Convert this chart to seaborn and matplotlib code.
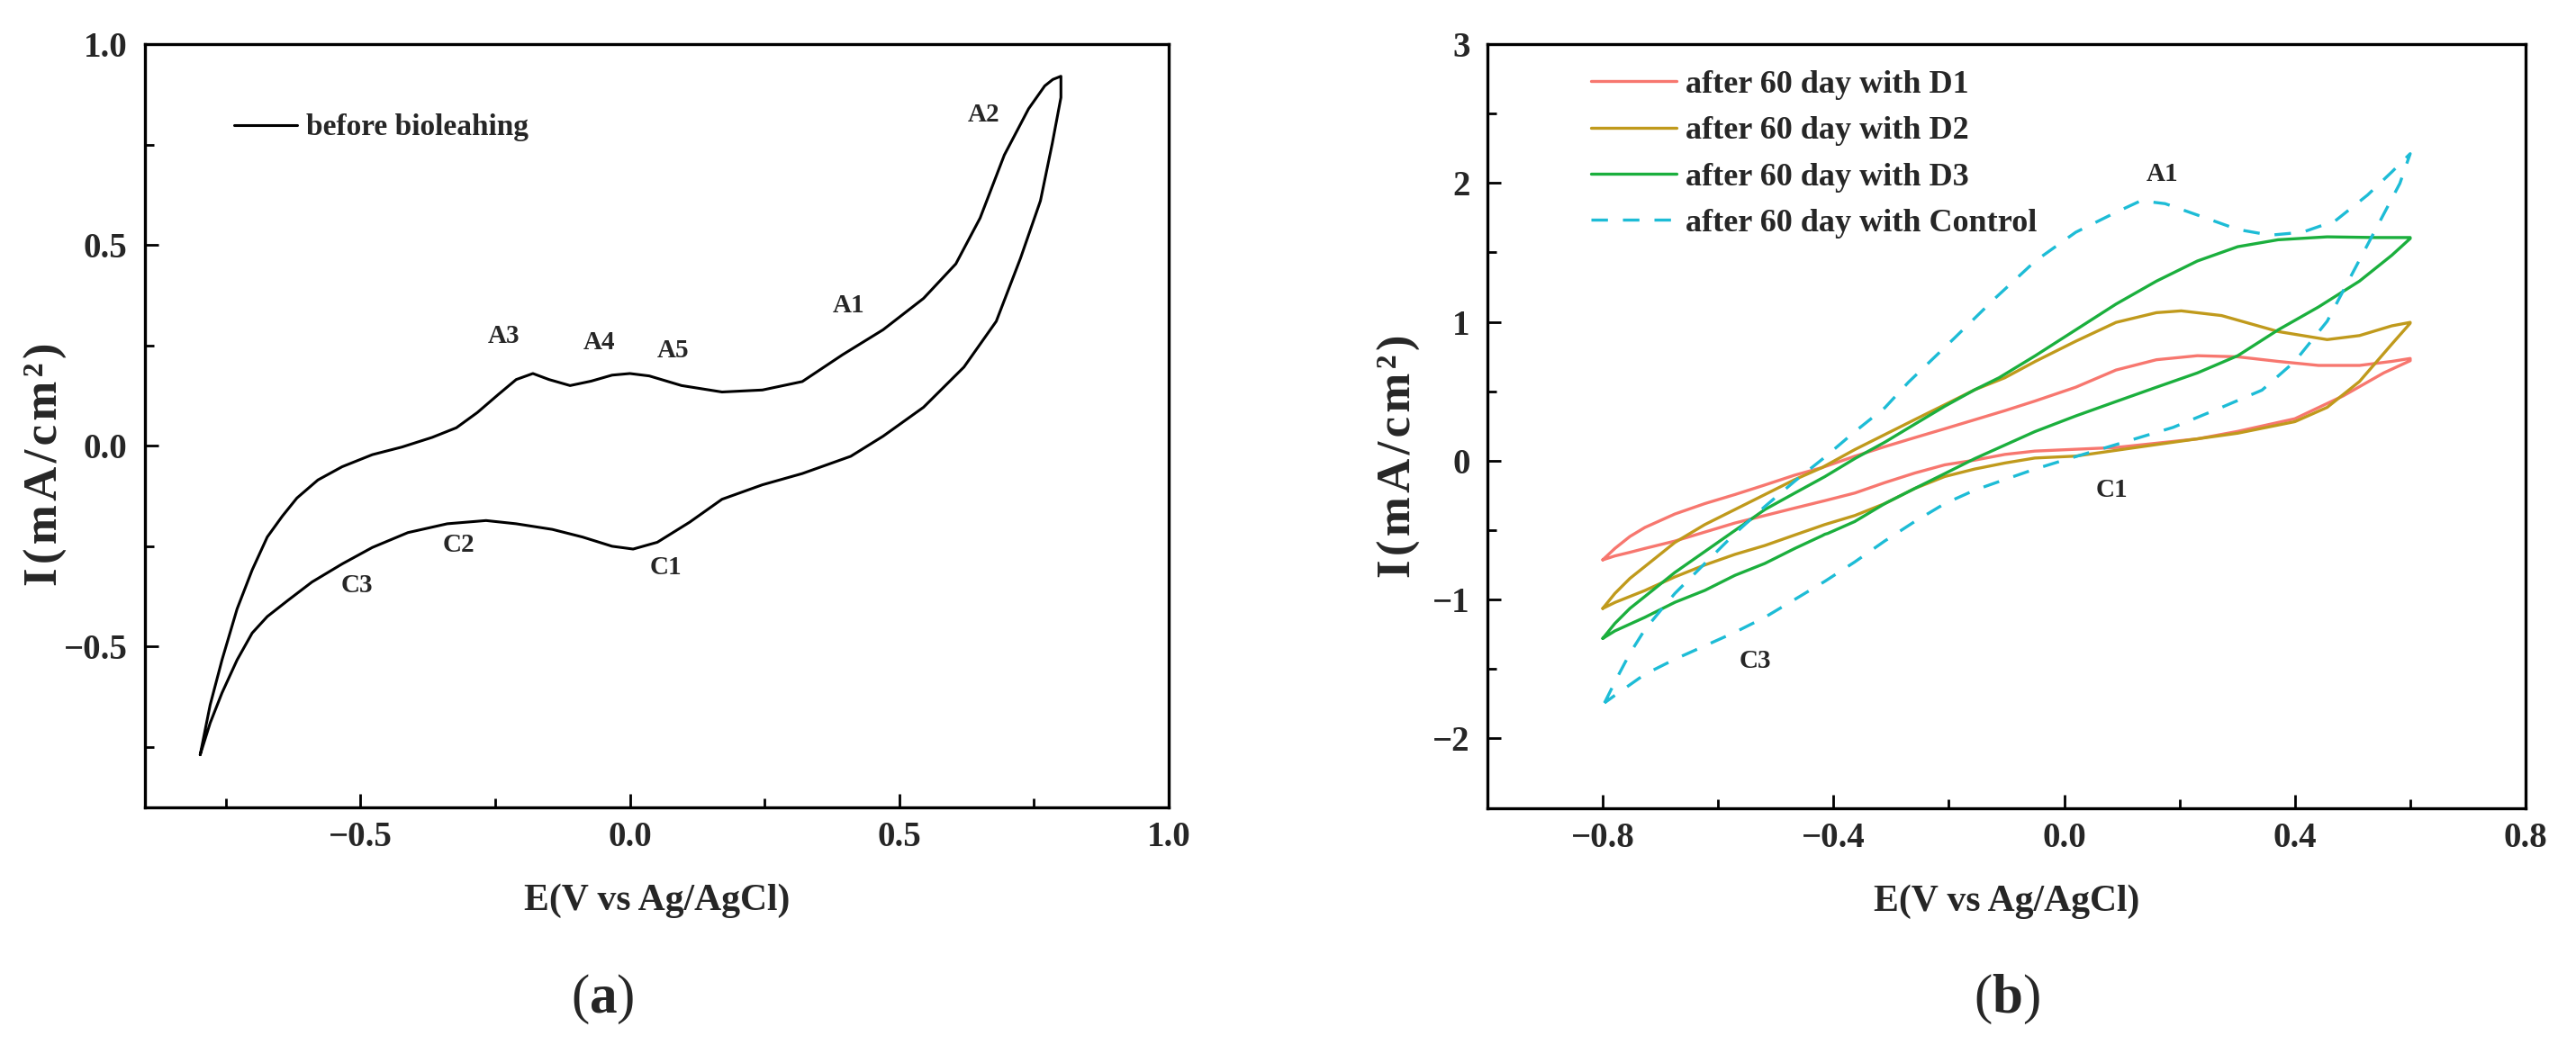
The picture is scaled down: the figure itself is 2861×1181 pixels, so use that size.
import pandas as pd
import seaborn as sns
import matplotlib
matplotlib.use("Agg")
from matplotlib import pyplot as plt
from matplotlib.ticker import MultipleLocator, FuncFormatter

# (a) before bioleaching: forward scan then reverse scan
before_e = [-0.7975, -0.779, -0.757, -0.729, -0.701, -0.673, -0.645, -0.618, -0.579, -0.534,
            -0.478, -0.423, -0.367, -0.322, -0.283, -0.244, -0.211, -0.18, -0.15, -0.111, -0.072,
            -0.033, 0.0, 0.036, 0.096, 0.171, 0.246, 0.32, 0.395, 0.47, 0.545, 0.605, 0.65, 0.695,
            0.74, 0.77, 0.785, 0.80, 0.80,
            0.784, 0.762, 0.725, 0.68, 0.62, 0.545, 0.47, 0.41, 0.32, 0.246, 0.171, 0.111,
            0.051, 0.006, -0.033, -0.088, -0.144, -0.211, -0.267, -0.339, -0.412, -0.478,
            -0.534, -0.59, -0.634, -0.673, -0.701, -0.729, -0.757, -0.779, -0.7975]
before_i = [-0.769, -0.645, -0.533, -0.406, -0.309, -0.227, -0.175, -0.13, -0.085, -0.052,
            -0.022, -0.003, 0.021, 0.045, 0.083, 0.128, 0.165, 0.18, 0.165, 0.15, 0.161,
            0.176, 0.18, 0.174, 0.15, 0.134, 0.139, 0.16, 0.227, 0.289, 0.367, 0.453, 0.567, 0.724,
            0.839, 0.896, 0.912, 0.92, 0.867,
            0.753, 0.61, 0.467, 0.31, 0.196, 0.096, 0.024, -0.026, -0.069, -0.097, -0.133, -0.19,
            -0.24, -0.257, -0.25, -0.227, -0.208, -0.194, -0.186, -0.194, -0.216, -0.253,
            -0.294, -0.339, -0.384, -0.425, -0.466, -0.533, -0.615, -0.69, -0.769]

left_peaks = ["A2", "A1", "A3", "A4", "A5", "C3", "C2", "C1"]
left_peak_e = [0.657, 0.406, -0.234, -0.057, 0.081, -0.506, -0.317, 0.066]
left_peak_i = [0.824, 0.349, 0.274, 0.257, 0.236, -0.347, -0.246, -0.304]

# (b) after 60 days
d1_e = [-0.80, -0.779, -0.753, -0.727, -0.675, -0.623, -0.571, -0.519, -0.467, -0.42, -0.363,
        -0.311, -0.259, -0.207, -0.155, -0.103, -0.051, 0.02, 0.09, 0.16, 0.231, 0.301, 0.371,
        0.441, 0.512, 0.568, 0.60,
        0.60, 0.554, 0.484, 0.40, 0.301, 0.231, 0.09, -0.051, -0.103, -0.155, -0.207, -0.259,
        -0.311, -0.363, -0.415, -0.467, -0.519, -0.571, -0.623, -0.675, -0.727, -0.753, -0.779,
        -0.80]
d1_i = [-0.714, -0.632, -0.546, -0.481, -0.384, -0.309, -0.244, -0.175, -0.104, -0.05, 0.032,
        0.101, 0.166, 0.23, 0.295, 0.36, 0.429, 0.529, 0.653, 0.727, 0.756, 0.748, 0.715,
        0.686, 0.686, 0.715, 0.736,
        0.72, 0.632, 0.467, 0.302, 0.211, 0.157, 0.095, 0.069, 0.045, 0.004, -0.03, -0.089,
        -0.158, -0.233, -0.288, -0.341, -0.395, -0.449, -0.514, -0.579, -0.632, -0.66, -0.686,
        -0.714]

d2_e = [-0.80, -0.779, -0.753, -0.727, -0.675, -0.623, -0.571, -0.519, -0.467, -0.42, -0.363,
        -0.311, -0.259, -0.207, -0.155, -0.103, -0.05, 0.02, 0.09, 0.16, 0.203, 0.273, 0.371,
        0.456, 0.512, 0.568, 0.60,
        0.60, 0.568, 0.512, 0.456, 0.40, 0.301, 0.16, 0.02, -0.051, -0.103, -0.155, -0.207,
        -0.259, -0.311, -0.363, -0.415, -0.467, -0.519, -0.571, -0.623, -0.675, -0.727, -0.779,
        -0.80]
d2_i = [-1.064, -0.956, -0.848, -0.762, -0.589, -0.46, -0.352, -0.244, -0.136, -0.05, 0.08,
        0.188, 0.296, 0.403, 0.511, 0.597, 0.715, 0.86, 0.996, 1.066, 1.079, 1.045, 0.93,
        0.872, 0.901, 0.971, 0.996,
        0.99, 0.839, 0.57, 0.384, 0.281, 0.198, 0.116, 0.033, 0.019, -0.017, -0.06, -0.114,
        -0.2, -0.309, -0.395, -0.46, -0.535, -0.611, -0.675, -0.751, -0.837, -0.935, -1.021,
        -1.064]

d3_e = [-0.80, -0.779, -0.753, -0.727, -0.675, -0.623, -0.571, -0.519, -0.467, -0.415, -0.363,
        -0.311, -0.259, -0.207, -0.155, -0.113, -0.05, 0.02, 0.09, 0.16, 0.231, 0.301, 0.371,
        0.456, 0.54, 0.60,
        0.60, 0.568, 0.512, 0.441, 0.371, 0.301, 0.231, 0.16, 0.09, 0.02, -0.051, -0.103,
        -0.155, -0.207, -0.259, -0.311, -0.363, -0.41, -0.415, -0.42, -0.467, -0.519, -0.571,
        -0.623, -0.675, -0.727, -0.779, -0.80]
d3_i = [-1.28, -1.172, -1.064, -0.978, -0.805, -0.654, -0.503, -0.352, -0.233, -0.115, 0.015,
        0.133, 0.263, 0.392, 0.511, 0.597, 0.756, 0.942, 1.128, 1.293, 1.438, 1.541, 1.591,
        1.612, 1.607, 1.607,
        1.60, 1.479, 1.293, 1.107, 0.942, 0.756, 0.632, 0.529, 0.426, 0.322, 0.209, 0.112,
        0.015, -0.093, -0.2, -0.309, -0.438, -0.524, -0.53, -0.541, -0.632, -0.74, -0.826,
        -0.934, -1.02, -1.128, -1.226, -1.28]

ctrl_e = [-0.797, -0.775, -0.753, -0.727, -0.701, -0.675, -0.623, -0.571, -0.519, -0.467,
          -0.415, -0.363, -0.311, -0.27, -0.191, -0.12, -0.05, 0.02, 0.09, 0.133, 0.175, 0.231,
          0.301, 0.357, 0.413, 0.47, 0.526, 0.568, 0.60,
          0.582, 0.54, 0.498, 0.456, 0.40, 0.343, 0.273, 0.189, 0.09, 0.006, -0.051, -0.103,
          -0.155, -0.207, -0.259, -0.311, -0.363, -0.415, -0.467, -0.519, -0.571, -0.623,
          -0.675, -0.727, -0.779, -0.797]
ctrl_i = [-1.744, -1.561, -1.388, -1.216, -1.085, -0.956, -0.74, -0.525, -0.33, -0.147,
          0.025, 0.209, 0.381, 0.565, 0.88, 1.169, 1.438, 1.645, 1.789, 1.872, 1.851, 1.769,
          1.665, 1.624, 1.645, 1.727, 1.913, 2.079, 2.211,
          1.996, 1.665, 1.335, 1.004, 0.715, 0.508, 0.384, 0.24, 0.116, 0.012, -0.061, -0.136,
          -0.212, -0.309, -0.438, -0.578, -0.729, -0.869, -0.999, -1.128, -1.236, -1.333,
          -1.43, -1.538, -1.69, -1.744]

right_peaks = ["A1", "C1", "C3"]
right_peak_e = [0.17, 0.083, -0.535]
right_peak_i = [2.066, -0.215, -1.442]

sns.set_style("ticks")
plt.rcParams["font.family"] = ["Liberation Serif", "DejaVu Serif"]
plt.rcParams["font.weight"] = "bold"
plt.rcParams["axes.labelweight"] = "bold"
plt.rcParams["mathtext.fontset"] = "custom"
plt.rcParams["mathtext.rm"] = "Liberation Serif"
plt.rcParams["mathtext.bf"] = "Liberation Serif:bold"

fig = plt.figure(figsize=(28.61, 11.81), dpi=100)
ax1 = fig.add_axes([0.05627, 0.24047, 0.39741, 0.71804])
ax2 = fig.add_axes([0.57742, 0.24005, 0.40300, 0.71846])

df_a = pd.DataFrame({"E": before_e, "I": before_i})
sns.lineplot(data=df_a, x="E", y="I", sort=False, estimator=None, color="black",
             linewidth=2.2, label="before bioleahing", ax=ax1)

curves = [
    ("after 60 day with D1", d1_e, d1_i, "#F7776F", "-"),
    ("after 60 day with D2", d2_e, d2_i, "#C09A1C", "-"),
    ("after 60 day with D3", d3_e, d3_i, "#1BAF3D", "-"),
    ("after 60 day with Control", ctrl_e, ctrl_i, "#1DBCD6", (0, (5.5, 5))),
]
for name, e, i, col, ls in curves:
    df = pd.DataFrame({"E": e, "I": i})
    sns.lineplot(data=df, x="E", y="I", sort=False, estimator=None, color=col,
                 linewidth=2.4, linestyle=ls, label=name, ax=ax2)

for t, x, y in zip(left_peaks, left_peak_e, left_peak_i):
    ax1.text(x, y, t, fontsize=21, ha="center", va="center")
for t, x, y in zip(right_peaks, right_peak_e, right_peak_i):
    ax2.text(x, y, t, fontsize=21, ha="center", va="center")


def minus_fmt(fmt):
    return FuncFormatter(lambda v, p: fmt.format(v).replace("-", "\u2212"))


ax1.set_xlim(-0.9, 1.0)
ax1.set_ylim(-0.9, 1.0)
ax1.xaxis.set_major_locator(MultipleLocator(0.5))
ax1.xaxis.set_minor_locator(MultipleLocator(0.25))
ax1.yaxis.set_major_locator(MultipleLocator(0.5))
ax1.yaxis.set_minor_locator(MultipleLocator(0.25))
ax1.xaxis.set_major_formatter(minus_fmt("{:.1f}"))
ax1.yaxis.set_major_formatter(minus_fmt("{:.1f}"))

ax2.set_xlim(-1.0, 0.8)
ax2.set_ylim(-2.5, 3.0)
ax2.xaxis.set_major_locator(MultipleLocator(0.4))
ax2.xaxis.set_minor_locator(MultipleLocator(0.2))
ax2.yaxis.set_major_locator(MultipleLocator(1))
ax2.yaxis.set_minor_locator(MultipleLocator(0.5))
ax2.xaxis.set_major_formatter(minus_fmt("{:.1f}"))
ax2.yaxis.set_major_formatter(minus_fmt("{:.0f}"))

ylab = "\u200a".join(["I", "(", "m", "A", "/", "c", "m", "²", ")"])
for ax in (ax1, ax2):
    for s in ax.spines.values():
        s.set_linewidth(2.4)
        s.set_color("black")
    ax.tick_params(which="both", direction="in", width=2, color="black",
                   top=False, right=False, labelsize=28)
    ax.tick_params(which="major", length=10.8)
    ax.tick_params(which="minor", length=7.2)
    ax.tick_params(axis="x", which="both", pad=11)
    ax.tick_params(axis="y", which="both", pad=14)
    for lab in ax.get_xticklabels() + ax.get_yticklabels():
        lab.set_fontweight("bold")
    ax.set_xlabel("E(V vs Ag/AgCl)", fontsize=30, fontweight="bold")
    ax.set_ylabel(ylab, fontsize=38, fontweight="bold")

ax1.xaxis.set_label_coords(0.5, -0.10)
ax2.xaxis.set_label_coords(0.5, -0.10)
ax1.yaxis.set_label_coords(-0.076, 0.45)
ax2.yaxis.set_label_coords(-0.064, 0.46)

ax1.legend(loc="upper left", bbox_to_anchor=(0.087, 0.909), frameon=False, fontsize=24,
           handlelength=2.1, handletextpad=0.3, borderpad=0, borderaxespad=0)
ax2.legend(loc="upper left", bbox_to_anchor=(0.0997, 0.966), frameon=False, fontsize=26,
           handlelength=2.63, handletextpad=0.28, labelspacing=0.5, borderpad=0, borderaxespad=0)

fig.text(0.234, 0.06, r"($\mathbf{a}$)", fontsize=44, fontweight="normal", ha="center", va="center")
fig.text(0.779, 0.06, r"($\mathbf{b}$)", fontsize=44, fontweight="normal", ha="center", va="center")

fig.savefig("out.png", dpi=100)
